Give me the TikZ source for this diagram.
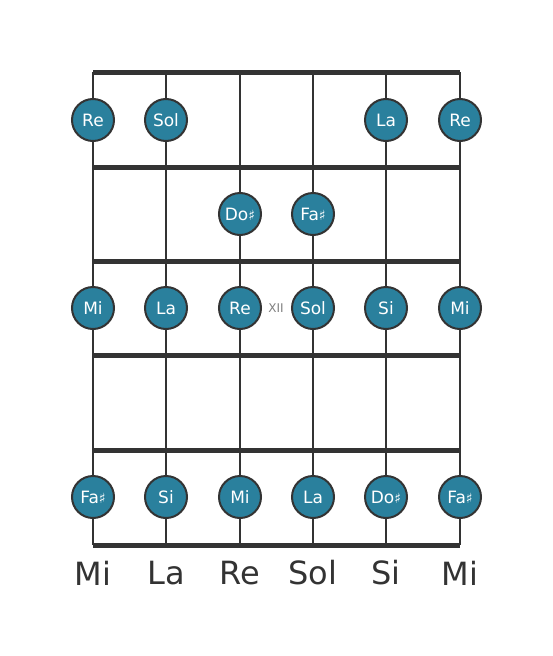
\documentclass[tikz,border=0pt]{standalone}
\usepackage{fontspec}
\setmainfont{DejaVu Sans}
\definecolor{notefill}{HTML}{2A809D}
\definecolor{wire}{HTML}{333333}
\newcommand{\shp}{{\fontsize{14}{14}\selectfont ♯}}
\tikzset{
  note/.style={circle, draw=wire, line width=2pt, fill=notefill, text=white,
    minimum size=42pt, inner sep=0pt, font=\fontsize{17}{17}\selectfont},
  tuning/.style={text=wire, font=\fontsize{32}{32}\selectfont}
}

\begin{document}
\begin{tikzpicture}[x=1pt, y=-1pt, wire]
\useasboundingbox (0,0) rectangle (553,656);
% Strings
    \draw[line width=2.5pt] (93,72) -- (93,545);
    \draw[line width=2.5pt] (166,72) -- (166,545);
    \draw[line width=2.5pt] (240,72) -- (240,545);
    \draw[line width=2.5pt] (313,72) -- (313,545);
    \draw[line width=2.5pt] (386,72) -- (386,545);
    \draw[line width=2.5pt] (460,72) -- (460,545);
% Frets
    \draw[line width=5pt] (93,72) -- (460,72);
    \draw[line width=5pt] (93,167) -- (460,167);
    \draw[line width=5pt] (93,261) -- (460,261);
    \draw[line width=5pt] (93,355) -- (460,355);
    \draw[line width=5pt] (93,450) -- (460,450);
    \draw[line width=5pt] (93,545) -- (460,545);
% Fret marker
    \node[text=gray, font=\fontsize{12}{12}\selectfont] (xii) at (276,308) {XII};
% Notes
    \node[note] (re1) at (93,120) {Re};
    \node[note] (sol1) at (166,120) {Sol};
    \node[note] (la1) at (386,120) {La};
    \node[note] (re2) at (460,120) {Re};
    \node[note] (do1) at (240,214) {Do\shp};
    \node[note] (fa1) at (313,214) {Fa\shp};
    \node[note] (mi1) at (93,308) {Mi};
    \node[note] (la2) at (166,308) {La};
    \node[note] (re3) at (240,308) {Re};
    \node[note] (sol2) at (313,308) {Sol};
    \node[note] (si1) at (386,308) {Si};
    \node[note] (mi2) at (460,308) {Mi};
    \node[note] (fa2) at (93,497) {Fa\shp};
    \node[note] (si2) at (166,497) {Si};
    \node[note] (mi3) at (240,497) {Mi};
    \node[note] (la3) at (313,497) {La};
    \node[note] (do2) at (386,497) {Do\shp};
    \node[note] (fa3) at (460,497) {Fa\shp};
% Open strings
    \node[tuning] (t1) at (93,573) {Mi};
    \node[tuning] (t2) at (166,573) {La};
    \node[tuning] (t3) at (240,573) {Re};
    \node[tuning] (t4) at (313,573) {Sol};
    \node[tuning] (t5) at (386,573) {Si};
    \node[tuning] (t6) at (460,573) {Mi};
\end{tikzpicture}
\end{document}
